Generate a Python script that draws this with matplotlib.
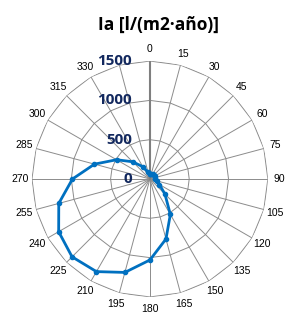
import numpy as np
import matplotlib
matplotlib.use("Agg")
import matplotlib.pyplot as plt

# orientation (deg, clockwise from north) and annual irradiation values
angles = [0, 15, 30, 45, 60, 75, 90, 105, 120, 135, 150, 165,
          180, 195, 210, 225, 240, 255, 270, 285, 300, 315, 330, 345]
angle_labels = ["0", "15", "30", "45", "60", "75", "90", "105", "120", "135",
                "150", "165", "180", "195", "210", "225", "240", "255", "270",
                "285", "300", "315", "330", ""]
ia = [60, 70, 75, 75, 70, 65, 70, 90, 140, 270, 520, 790,
      1030, 1230, 1360, 1400, 1340, 1200, 985, 730, 490, 310, 180, 90]
rings = [500, 1000, 1500]
ring_labels = ["500", "1000", "1500"]
title = "Ia [l/(m2·año)]"

grid_col = "#8c8c8c"
line_col = "#0070C0"
val_col = "#12285E"

fig = plt.figure(figsize=(2.88, 3.13), dpi=100)
ax = fig.add_axes([0.111, 0.0511, 0.819, 0.754], projection="polar")
ax.set_theta_zero_location("N")
ax.set_theta_direction(-1)
ax.set_ylim(0, 1500)
ax.grid(False)
ax.spines["polar"].set_visible(False)
ax.patch.set_visible(False)
ax.set_yticks([])

theta = np.deg2rad(angles)
theta_closed = np.append(theta, theta[0])

# polygon rings
for r in rings:
    ax.plot(theta_closed, [r] * len(theta_closed), color=grid_col, lw=0.7, zorder=1)

# spokes
for t in theta:
    ax.plot([t, t], [0, 1500], color=grid_col, lw=0.7, zorder=1)
ax.plot([0, 0], [0, 1500], color="#7f7f7f", lw=1.5, zorder=1.5)

# value axis labels
val_font = dict(fontsize=11, fontweight="bold", family="Open Sans", color=val_col)
ax.annotate("0", xy=(0, 0), xytext=(-13, 0), textcoords="offset points",
            ha="right", va="center", zorder=4, **val_font)
for r, lab in zip(rings, ring_labels):
    ax.annotate(lab, xy=(0, r), xytext=(-13, 0), textcoords="offset points",
                ha="right", va="center", zorder=4, **val_font)

# data
vals_closed = ia + [ia[0]]
ax.plot(theta_closed, vals_closed, color=line_col, lw=2, marker="o",
        markersize=3, zorder=3)

# angle labels
ax.set_xticks(theta)
ax.set_xticklabels(angle_labels, fontsize=7.5, family="Liberation Sans")
ax.tick_params(axis="x", pad=1.5, length=0)

fig.text(0.552, 1 - 25 / 313, title, ha="center", va="center",
         fontsize=12.5, fontweight="bold", family="Open Sans")

fig.savefig("out.png", dpi=100)
